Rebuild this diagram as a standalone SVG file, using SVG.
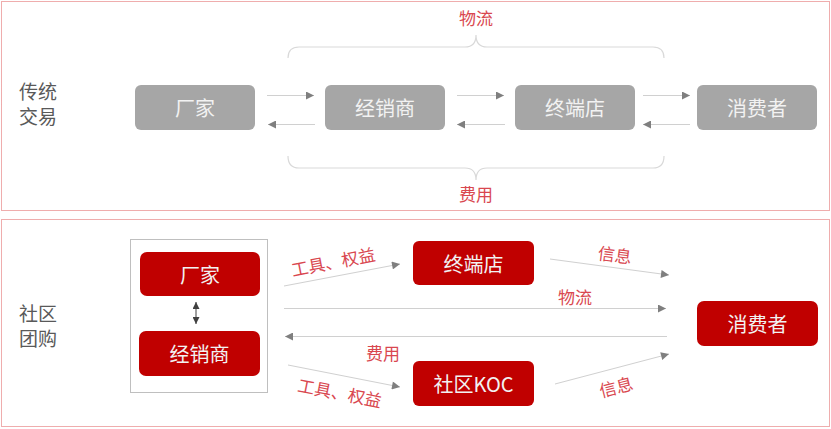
<svg xmlns="http://www.w3.org/2000/svg" width="831" height="429" viewBox="0 0 831 429">
<style>
text{font-family:"Noto Sans CJK SC","Noto Sans",sans-serif;dominant-baseline:central;text-anchor:middle}
.panel{fill:none;stroke:#de5a5a;stroke-width:1;stroke-dasharray:1 1}
.gnode{fill:#a6a6a6}
.rnode{fill:#c00000}
.ntext{fill:#f2f2f2;font-size:20px}
.side{fill:#595959;font-size:19px}
.lbl{fill:#d9474f;font-size:17px}
.conn{stroke:#d0d0d0;stroke-width:1;fill:none}
.brace{stroke:#d9d9d9;stroke-width:1.2;fill:none}
</style>
<defs>
<marker id="ah" viewBox="0 0 10 10" refX="10" refY="5" markerWidth="9" markerHeight="8" markerUnits="userSpaceOnUse" orient="auto">
<path d="M0,0 L10,5 L0,10 Z" fill="#7f7f7f"/>
</marker>
<marker id="dh" viewBox="0 0 10 10" refX="10" refY="5" markerWidth="8" markerHeight="7" markerUnits="userSpaceOnUse" orient="auto-start-reverse">
<path d="M0,0 L10,5 L0,10 Z" fill="#404040"/>
</marker>
</defs>
<rect class="panel" x="1.5" y="1.5" width="828" height="209"/>
<rect class="panel" x="1.5" y="219.5" width="828" height="207"/>
<text class="side" x="38" y="90">传统</text>
<text class="side" x="38" y="115">交易</text>
<text class="side" x="38" y="312.5">社区</text>
<text class="side" x="38" y="337">团购</text>
<g id="t-changjia"><rect class="gnode" x="135" y="85" width="120" height="45" rx="6"/><text class="ntext" x="195" y="107.5">厂家</text></g>
<g id="t-jingxiaoshang"><rect class="gnode" x="325" y="85" width="120" height="45" rx="6"/><text class="ntext" x="385" y="107.5">经销商</text></g>
<g id="t-zhongduandian"><rect class="gnode" x="515" y="85" width="120" height="45" rx="6"/><text class="ntext" x="575" y="107.5">终端店</text></g>
<g id="t-xiaofeizhe"><rect class="gnode" x="697" y="85" width="120" height="45" rx="6"/><text class="ntext" x="757" y="107.5">消费者</text></g>
<g id="b-frame"><rect x="130.5" y="239.5" width="137" height="153" fill="none" stroke="#bfbfbf" stroke-width="1"/></g>
<g id="b-changjia"><rect class="rnode" x="140" y="252" width="120" height="44" rx="7"/><text class="ntext" x="200" y="274">厂家</text></g>
<g id="b-jingxiaoshang"><rect class="rnode" x="139" y="331" width="121" height="45" rx="7"/><text class="ntext" x="199.5" y="353.5">经销商</text></g>
<g id="b-zhongduandian"><rect class="rnode" x="413" y="241" width="121" height="44" rx="6"/><text class="ntext" x="473.5" y="263">终端店</text></g>
<g id="b-koc"><rect class="rnode" x="413" y="361" width="121" height="45" rx="6"/><text class="ntext" x="473.5" y="383.5">社区KOC</text></g>
<g id="b-xiaofeizhe"><rect class="rnode" x="697" y="301" width="121" height="45" rx="7"/><text class="ntext" x="757.5" y="323.5">消费者</text></g>
<g id="connectors">
<path class="brace" d="M288,58 Q288,47 299,47 L465,47 Q476,47 476,35 Q476,47 487,47 L653,47 Q664,47 664,58"/>
<path class="brace" d="M288,156 Q288,168 299,168 L465,168 Q476,168 476,180 Q476,168 487,168 L653,168 Q664,168 664,156"/>
<line class="conn" x1="267" y1="95.5" x2="314" y2="95.5" marker-end="url(#ah)"/>
<line class="conn" x1="315" y1="124.5" x2="268" y2="124.5" marker-end="url(#ah)"/>
<line class="conn" x1="457" y1="95.5" x2="504" y2="95.5" marker-end="url(#ah)"/>
<line class="conn" x1="505" y1="124.5" x2="457" y2="124.5" marker-end="url(#ah)"/>
<line class="conn" x1="643" y1="95.5" x2="690" y2="95.5" marker-end="url(#ah)"/>
<line class="conn" x1="690" y1="124.5" x2="643" y2="124.5" marker-end="url(#ah)"/>
<line x1="196" y1="302" x2="196" y2="324" stroke="#404040" stroke-width="1" marker-start="url(#dh)" marker-end="url(#dh)"/>
<line class="conn" x1="284" y1="286" x2="400" y2="264" marker-end="url(#ah)"/>
<line class="conn" x1="284" y1="308.5" x2="666" y2="308.5" marker-end="url(#ah)"/>
<line class="conn" x1="667" y1="336.5" x2="285" y2="336.5" marker-end="url(#ah)"/>
<line class="conn" x1="288" y1="365" x2="400" y2="387" marker-end="url(#ah)"/>
<line class="conn" x1="550" y1="259" x2="669" y2="275" marker-end="url(#ah)"/>
<line class="conn" x1="555" y1="384" x2="669" y2="354" marker-end="url(#ah)"/>
</g>
<text class="lbl" x="476" y="17">物流</text>
<text class="lbl" x="476" y="193">费用</text>
<text class="lbl" x="333" y="261" transform="rotate(-11 333 261)">工具、权益</text>
<text class="lbl" x="575" y="296">物流</text>
<text class="lbl" x="383" y="352">费用</text>
<text class="lbl" x="340" y="392" transform="rotate(11 340 392)">工具、权益</text>
<text class="lbl" x="615" y="254" transform="rotate(7 615 254)">信息</text>
<text class="lbl" x="616" y="386" transform="rotate(-14 616 386)">信息</text>
</svg>
